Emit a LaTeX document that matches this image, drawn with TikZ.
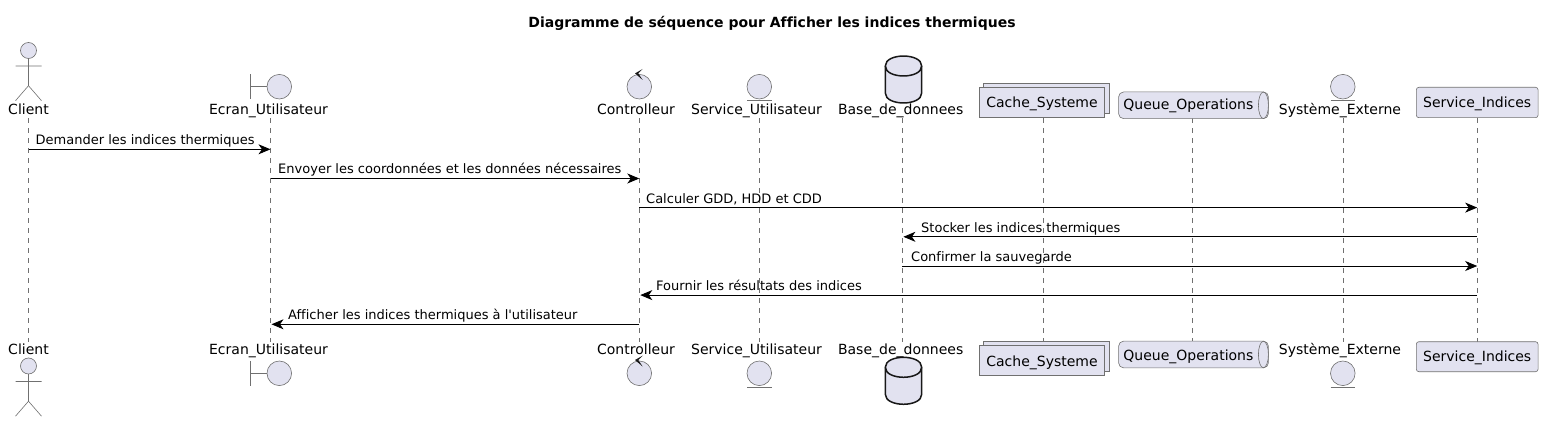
\documentclass[tikz,border=0pt]{standalone}
\usepackage{fontspec}
\setmainfont[Ligatures = NoCommon]{DejaVu Sans}
\usetikzlibrary{arrows.meta}
\definecolor{partfill}{HTML}{E2E2F0}
\definecolor{partline}{HTML}{181818}
\definecolor{thinline}{HTML}{707070}
\tikzset{
	figline/.style = {draw = thinline, line width = .6pt},
	figfill/.style = {figline, fill = partfill},
	dbline/.style = {draw = partline, fill = partfill, line width = 1.5pt},
	lifeline/.style = {draw = thinline, line width = .6pt, dash pattern = on 5pt off 5pt},
	msg/.style = {draw = black, line width = .9pt, -{Stealth[length = 12pt, width = 10pt, inset = 3.5pt]}},
	msgback/.style = {msg, shorten > = 1pt},
	msglabel/.style = {anchor = base west, inner sep = 0pt, font = \fontsize{13}{15}\selectfont},
	partlabel/.style = {anchor = base, inner sep = 0pt, font = \fontsize{14}{16}\selectfont},
	partbox/.style = {figfill, rounded corners = 2.5pt, inner sep = 0pt},
	actorfig/.pic = {
		\draw [figfill] (0,0) circle [radius = 8];
		\draw [figline] (0,8) -- (0,35.2) (-13,15.5) -- (13,15.5) (-13,50.2) -- (0,35.2) -- (13,50.2);
	},
	boundaryfig/.pic = {
		\draw [figfill] (0,0) circle [radius = 12.3];
		\draw [figline] (-29,-12.4) -- (-29,12.4) (-29,0) -- (-12.3,0);
	},
	controlfig/.pic = {
		\draw [figfill] (0,0) circle [radius = 12.3];
		\fill [partline] (-4.3,-13.3) -- (3.4,-17.7) -- (-1,-13.3) -- (3.4,-6.7) -- cycle;
	},
	entityfig/.pic = {
		\draw [figfill] (0,0) circle [radius = 12.3];
		\draw [figline] (-12.3,13.8) -- (12.3,13.8);
	},
	databasefig/.pic = {
		\draw [dbline] (-18.2,0) .. controls (-18.2,-13.3) and (18.2,-13.3) .. (18.2,0) -- (18.2,27) .. controls (18.2,40.3) and (-18.2,40.3) .. (-18.2,27) -- cycle;
		\draw [dbline, fill = none] (-18.2,0) .. controls (-18.2,13.3) and (18.2,13.3) .. (18.2,0);
	}
}
\begin{document}
\begin{tikzpicture}[x = 1pt, y = -1pt]
	\useasboundingbox (0,0) rectangle (1543,422);
	\node [anchor = base, inner sep = 0pt, font = \fontsize{14}{16}\selectfont\bfseries] (title) at (772,28) {Diagramme de séquence pour Afficher les indices thermiques};

	\coordinate (clientTop) at (28.5,118.3);
	\coordinate (clientEnd) at (28.5,341.5);
	\coordinate (ecranTop) at (270.5,118.3);
	\coordinate (ecranEnd) at (270.5,341.5);
	\coordinate (ctrlTop) at (639.3,118.3);
	\coordinate (ctrlEnd) at (639.3,341.5);
	\coordinate (servUTop) at (759.3,118.3);
	\coordinate (servUEnd) at (759.3,341.5);
	\coordinate (baseTop) at (902.4,118.3);
	\coordinate (baseEnd) at (902.4,341.5);
	\coordinate (cacheTop) at (1043.4,118.3);
	\coordinate (cacheEnd) at (1043.4,341.5);
	\coordinate (queueTop) at (1192.4,118.3);
	\coordinate (queueEnd) at (1192.4,341.5);
	\coordinate (extTop) at (1342.8,118.3);
	\coordinate (extEnd) at (1342.8,341.5);
	\coordinate (servITop) at (1477.2,118.3);
	\coordinate (servIEnd) at (1477.2,341.5);

	\draw [lifeline] (clientTop) -- (clientEnd);
	\draw [lifeline] (ecranTop) -- (ecranEnd);
	\draw [lifeline] (ctrlTop) -- (ctrlEnd);
	\draw [lifeline] (servUTop) -- (servUEnd);
	\draw [lifeline] (baseTop) -- (baseEnd);
	\draw [lifeline] (cacheTop) -- (cacheEnd);
	\draw [lifeline] (queueTop) -- (queueEnd);
	\draw [lifeline] (extTop) -- (extEnd);
	\draw [lifeline] (servITop) -- (servIEnd);

	\pic at (28.5,50.5) {actorfig};
	\pic at (279.3,86.7) {boundaryfig};
	\pic at (639.3,86.7) {controlfig};
	\pic at (759.3,86.7) {entityfig};
	\pic at (903.5,66) {databasefig};
	\pic at (1342.8,86.7) {entityfig};
	\pic at (28.5,366) {actorfig};
	\pic at (279.3,373.3) {boundaryfig};
	\pic at (639.3,373.3) {controlfig};
	\pic at (759.3,373.3) {entityfig};
	\pic at (903.5,367.3) {databasefig};
	\pic at (1342.8,373.3) {entityfig};

	\node [partlabel] (clientT) at (28.5,115) {Client};
	\node [partlabel] (ecranT) at (268.5,115) {Ecran\_Utilisateur};
	\node [partlabel] (ctrlT) at (636,115) {Controlleur};
	\node [partlabel] (servUT) at (756.5,115) {Service\_Utilisateur};
	\node [partlabel] (baseT) at (900.7,115) {Base\_de\_donnees};
	\node [partlabel] (extT) at (1340,115) {Système\_Externe};
	\node [partlabel] (clientB) at (28.5,354.3) {Client};
	\node [partlabel] (ecranB) at (268.5,354.3) {Ecran\_Utilisateur};
	\node [partlabel] (ctrlB) at (636,354.3) {Controlleur};
	\node [partlabel] (servUB) at (756.5,354.3) {Service\_Utilisateur};
	\node [partlabel] (baseB) at (900.7,354.3) {Base\_de\_donnees};
	\node [partlabel] (extB) at (1340,354.3) {Système\_Externe};

	\node [partbox, rounded corners = 0pt, minimum width = 125.3pt, minimum height = 30pt] (cacheBackT) at (1046.2,98.3) {};
	\node [partbox, rounded corners = 0pt, minimum width = 125pt, minimum height = 30.4pt] (cacheBoxT) at (1042,102.5) {};
	\node [partlabel] (cacheT) at (1042,107.3) {Cache\_Systeme};
	\node [partbox, rounded corners = 0pt, minimum width = 125.3pt, minimum height = 30pt] (cacheBackB) at (1046.2,356.7) {};
	\node [partbox, rounded corners = 0pt, minimum width = 125pt, minimum height = 29.6pt] (cacheBoxB) at (1042,360.5) {};
	\node [partlabel] (cacheB) at (1042,366) {Cache\_Systeme};

	\node [partbox, rounded corners = 5pt, minimum width = 149.8pt, minimum height = 26.7pt] (queueBoxT) at (1193.5,105.3) {};
	\draw [figline] (1263.4,105.3) ellipse [x radius = 5, y radius = 13.3];
	\node [partlabel] (queueT) at (1188.4,110) {Queue\_Operations};
	\node [partbox, rounded corners = 5pt, minimum width = 149.8pt, minimum height = 26.7pt] (queueBoxB) at (1193.5,354.5) {};
	\draw [figline] (1263.4,354.5) ellipse [x radius = 5, y radius = 13.3];
	\node [partlabel] (queueB) at (1188.4,360) {Queue\_Operations};

	\node [partbox, minimum width = 121.7pt, minimum height = 30.4pt] (servIBoxT) at (1477.2,102.5) {};
	\node [partlabel] (servIT) at (1477.2,107.3) {Service\_Indices};
	\node [partbox, minimum width = 121.7pt, minimum height = 30pt] (servIBoxB) at (1477.2,356.7) {};
	\node [partlabel] (servIB) at (1477.2,361.7) {Service\_Indices};

	\coordinate (m1) at (0,149.3);
	\coordinate (m2) at (0,178.5);
	\coordinate (m3) at (0,207.6);
	\coordinate (m4) at (0,236.8);
	\coordinate (m5) at (0,266);
	\coordinate (m6) at (0,295.1);
	\coordinate (m7) at (0,324.3);

	\draw [msg] (clientTop |- m1) -- (ecranTop |- m1);
	\draw [msg] (ecranTop |- m2) -- (ctrlTop |- m2);
	\draw [msg] (ctrlTop |- m3) -- (servITop |- m3);
	\draw [msgback] (servITop |- m4) -- (baseTop |- m4);
	\draw [msg] (baseTop |- m5) -- (servITop |- m5);
	\draw [msgback] (servITop |- m6) -- (ctrlTop |- m6);
	\draw [msgback] (ctrlTop |- m7) -- (ecranTop |- m7);

	\node [msglabel] (l1) at (35.5,144.8) {Demander les indices thermiques};
	\node [msglabel] (l2) at (278,174) {Envoyer les coordonnées et les données nécessaires};
	\node [msglabel] (l3) at (646,203.1) {Calculer GDD, HDD et CDD};
	\node [msglabel] (l4) at (921,232.3) {Stocker les indices thermiques};
	\node [msglabel] (l5) at (911,261.5) {Confirmer la sauvegarde};
	\node [msglabel] (l6) at (656,290.6) {Fournir les résultats des indices};
	\node [msglabel] (l7) at (288,319.8) {Afficher les indices thermiques à l\textquotesingle utilisateur};
\end{tikzpicture}
\end{document}
